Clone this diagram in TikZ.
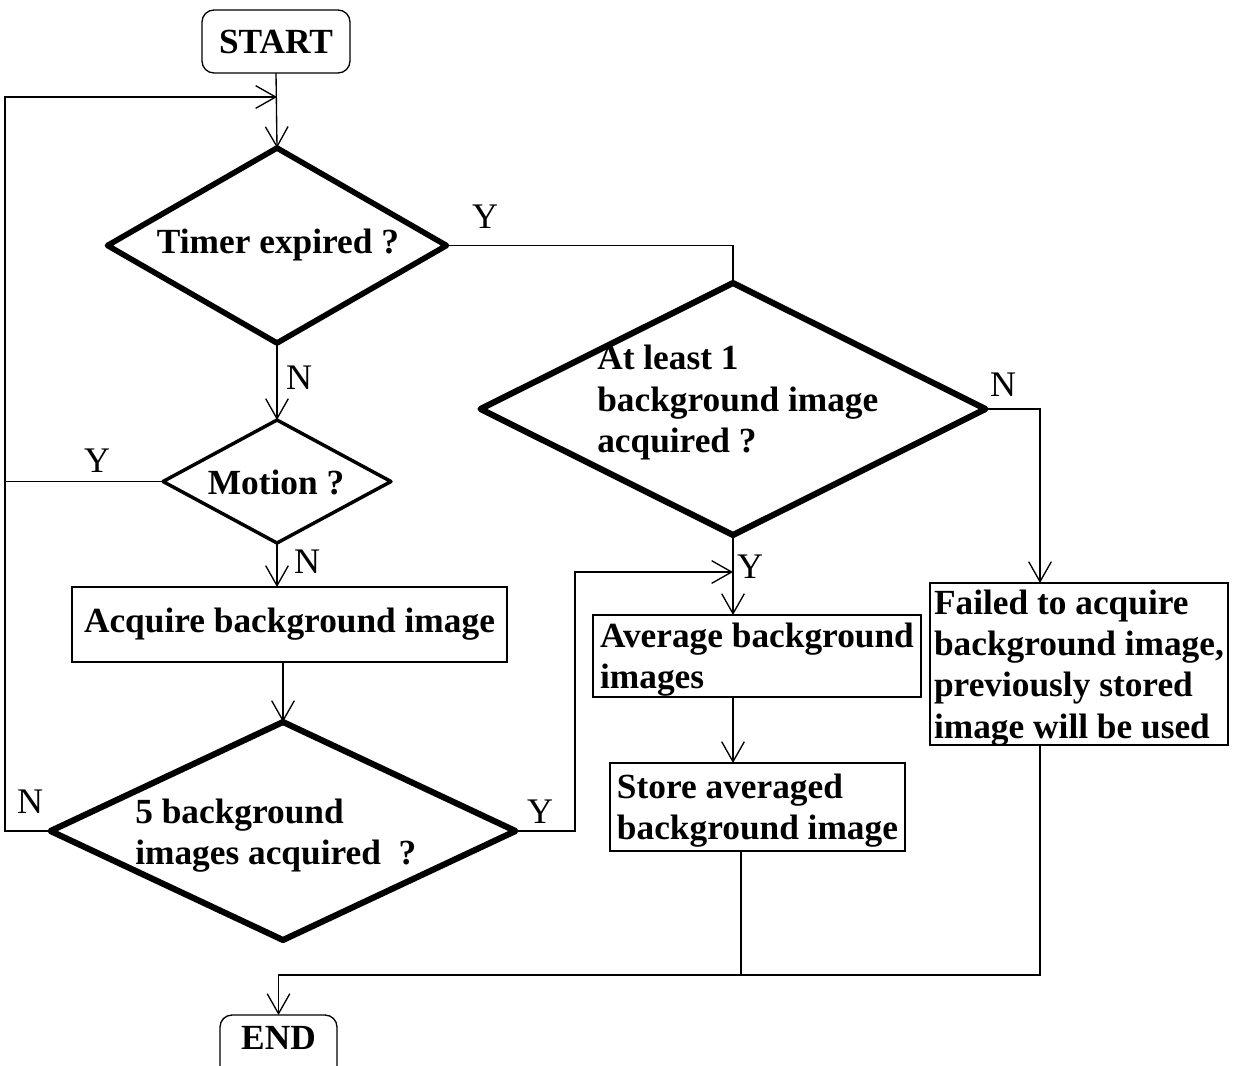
\documentclass[tikz,border=0pt]{standalone}
\usepackage{fontspec}
\setmainfont{Liberation Serif}
\usetikzlibrary{shapes.geometric,arrows.meta}
\begin{document}
\begin{tikzpicture}[x=0.75pt,y=-0.75pt,
  conn/.style={line width=1pt},
  arr/.style={conn,-{Straight Barb[length=15pt,width=17pt,line width=1pt]}},
  decision/.style={diamond,draw,line width=4.2pt,line join=round,outer sep=0pt,inner sep=0pt},
  txt/.style={font=\fontsize{26.5}{31}\selectfont\bfseries,inner sep=0pt,text depth=0pt},
  stepbox/.style={rectangle,draw,line width=1.1pt,outer sep=0pt,inner sep=0pt,
    font=\fontsize{26.5}{31}\selectfont\bfseries,align=left,text depth=0pt},
  terminal/.style={rectangle,rounded corners=9pt,draw,line width=1pt,outer sep=0pt,
    font=\fontsize{26.5}{31}\selectfont\bfseries},
  yn/.style={font=\fontsize{27}{31}\selectfont,inner sep=0pt}
]
\useasboundingbox (0,0) rectangle (1234,1065);

% terminals
\node[terminal,minimum width=111pt,minimum height=47.25pt] (start) at (276,41.5) {START};
\node[terminal,anchor=north,minimum width=87.75pt,minimum height=47.25pt,text depth=13pt] (end) at (278.5,1015) {END};

% decisions
\node[decision,minimum width=254.25pt,minimum height=146.25pt] (timer) at (277,245.5) {};
\node[txt] (timert) at (278,241) {Timer expired ?};

\node[decision,line width=2.6pt,minimum width=171pt,minimum height=92.25pt] (motion) at (277,481.5) {};
\node[txt,text depth=] (motiont) at (276,482) {Motion ?};

\node[decision,line width=4.6pt,minimum width=378.75pt,minimum height=189pt] (atl) at (733,409) {};
\node[txt,anchor=west,align=left] (atlt) at (597,399) {At least 1\\background image\\acquired ?};

\node[decision,line width=4.6pt,minimum width=348.75pt,minimum height=163.5pt] (five) at (283,831) {};
\node[txt,anchor=west,align=left] (fivet) at (135,832) {5 background\\images acquired~ ?};

% process boxes
\node[stepbox,align=center,text depth=,minimum width=326.25pt,minimum height=56.25pt] (acq) at (289.5,624.5) {Acquire background image};
\node[stepbox,minimum width=246pt,minimum height=61.5pt] (avg) at (757,656) {Average background\\images\hspace{128pt}};
\node[stepbox,minimum width=221.25pt,minimum height=66pt] (store) at (757.5,807) {Store averaged\hspace{55pt}\\background image};
\node[stepbox,minimum width=223.5pt,minimum height=121.5pt] (fail) at (1079,664) {Failed to acquire\\background image,\\previously stored\\image will be used};

% routing points
\coordinate (lx) at (5,0);
\coordinate (looptop) at (277,97);
\coordinate (yx) at (575,0);
\coordinate (ymerge) at (733,572);
\coordinate (nx) at (1040,0);
\coordinate (join) at (741,975);

% connectors
\draw[arr] (start.south) -- (timer.north);
\draw[arr] (five.west) -- (five.west -| lx) -- (lx |- looptop) -- (looptop);
\draw[arr] (timer.south) -- (motion.north);
\draw[conn] (motion.west) -- (motion.west -| lx);
\draw[arr] (motion.south) -- (motion.south |- acq.north);
\draw[arr] (five.north |- acq.south) -- (five.north);
\draw[conn] (timer.east) -- (timer.east -| atl.north) -- (atl.north);
\draw[arr] (atl.east) -- (atl.east -| nx) -- (nx |- fail.north);
\draw[arr] (atl.south) -- (atl.south |- avg.north);
\draw[arr] (five.east) -- (five.east -| yx) -- (yx |- ymerge) -- (ymerge);
\draw[arr] (atl.south |- avg.south) -- (atl.south |- store.north);
\draw[conn] (join |- store.south) -- (join);
\draw[arr] (nx |- fail.south) -- (nx |- join) -- (end.north |- join) -- (end.north);

% branch labels
\node[yn] (y1) at (485,217) {Y};
\node[yn] (n1) at (299,378) {N};
\node[yn] (n2) at (1003,385) {N};
\node[yn] (y2) at (97,461) {Y};
\node[yn] (n3) at (307,562) {N};
\node[yn] (y3) at (750,567) {Y};
\node[yn] (n4) at (30,802) {N};
\node[yn] (y4) at (540,812) {Y};
\end{tikzpicture}
\end{document}
